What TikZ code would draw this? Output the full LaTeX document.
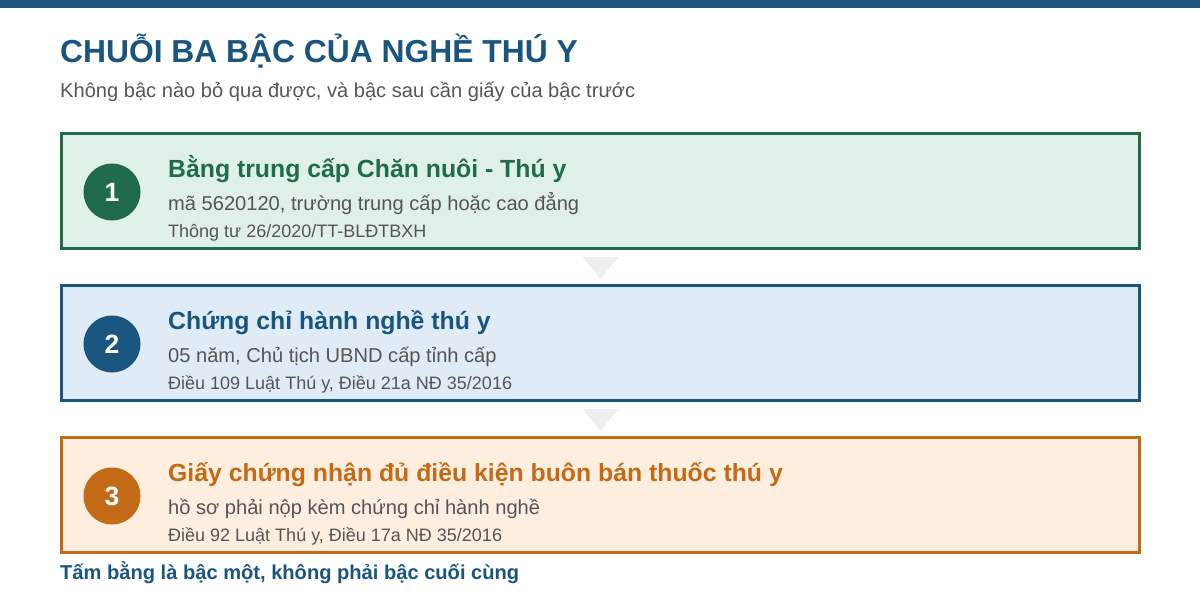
\documentclass[tikz,border=0pt]{standalone}
\usepackage{fontspec}
\setmainfont{Liberation Sans}
\usepackage{tikz}
\usetikzlibrary{positioning}
\definecolor{vetblue}{HTML}{1A5580}
\definecolor{vetgreen}{HTML}{1F6B4A}
\definecolor{vetorange}{HTML}{C26A15}
\definecolor{fillgreen}{HTML}{DFF0E6}
\definecolor{fillblue}{HTML}{DFEBF5}
\definecolor{fillorange}{HTML}{FDEEDF}
\definecolor{textgray}{HTML}{555555}
\definecolor{arrowgray}{HTML}{EEEEEE}

\begin{document}
\begin{tikzpicture}[x=1pt,y=-1pt,
    stepbox/.style={rectangle,line width=3pt,minimum width=1078pt,minimum height=115pt,inner sep=0pt},
    num/.style={circle,minimum size=57pt,inner sep=0pt,text=white,font=\bfseries\fontsize{26.5}{30}\selectfont},
    head/.style={anchor=base west,inner sep=0pt,font=\bfseries\fontsize{24.8}{28}\selectfont},
    sub/.style={anchor=base west,inner sep=0pt,text=textgray,font=\fontsize{20.1}{24}\selectfont},
    law/.style={anchor=base west,inner sep=0pt,text=textgray,font=\fontsize{18}{21}\selectfont},
    tri/.style={fill=arrowgray}]
  \useasboundingbox (0,0) rectangle (1200,600);
  \fill[vetblue] (0,0) rectangle (1200,8);

  % title
  \node[anchor=base west,inner sep=0pt,text=vetblue,font=\bfseries\fontsize{31.8}{36}\selectfont] (title) at (60,62) {CHUỖI BA BẬC CỦA NGHỀ THÚ Y};
  \node[sub] (subtitle) at (60,97) {Không bậc nào bỏ qua được, và bậc sau cần giấy của bậc trước};

  % step 1
  \node[stepbox,draw=vetgreen,fill=fillgreen] (box1) at (600.5,191) {};
  \node[num,fill=vetgreen] (num1) at (112,192) {1};
  \node[head,text=vetgreen] (head1) at (168,177) {Bằng trung cấp Chăn nuôi - Thú y};
  \node[sub] (sub1) at (168,210) {mã 5620120, trường trung cấp hoặc cao đẳng};
  \node[law] (law1) at (168,237) {Thông tư 26/2020/TT-BLĐTBXH};

  % step 2
  \node[stepbox,draw=vetblue,fill=fillblue] (box2) at (600.5,343) {};
  \node[num,fill=vetblue] (num2) at (112,344) {2};
  \node[head,text=vetblue] (head2) at (168,329) {Chứng chỉ hành nghề thú y};
  \node[sub] (sub2) at (168,362) {05 năm, Chủ tịch UBND cấp tỉnh cấp};
  \node[law] (law2) at (168,389) {Điều 109 Luật Thú y, Điều 21a NĐ 35/2016};

  % step 3
  \node[stepbox,draw=vetorange,fill=fillorange] (box3) at (600.5,495) {};
  \node[num,fill=vetorange] (num3) at (112,496) {3};
  \node[head,text=vetorange] (head3) at (168,481) {Giấy chứng nhận đủ điều kiện buôn bán thuốc thú y};
  \node[sub] (sub3) at (168,514) {hồ sơ phải nộp kèm chứng chỉ hành nghề};
  \node[law] (law3) at (168,541) {Điều 92 Luật Thú y, Điều 17a NĐ 35/2016};

  % arrows between steps
  \fill[tri] (box1.south) ++(-18,7) -- ++(36,0) -- ++(-18,22) -- cycle;
  \fill[tri] (box2.south) ++(-18,7) -- ++(36,0) -- ++(-18,22) -- cycle;

  \node[anchor=base west,inner sep=0pt,text=vetblue,font=\bfseries\fontsize{20.1}{24}\selectfont] (note) at (60,579) {Tấm bằng là bậc một, không phải bậc cuối cùng};
\end{tikzpicture}
\end{document}
